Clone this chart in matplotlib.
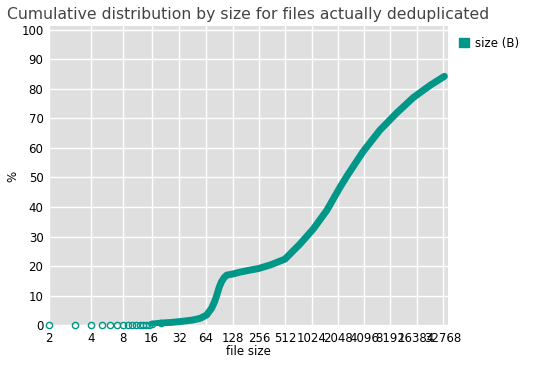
import matplotlib
matplotlib.use("Agg")
import matplotlib.pyplot as plt
import matplotlib.patches as mpatches
import numpy as np

# small sizes, drawn as separate hollow points
small_sizes = [2, 3, 4, 5, 6, 7, 8, 9, 10, 11, 12, 13, 14, 15]
small_pct = [0.02, 0.03, 0.05, 0.06, 0.08, 0.1, 0.11, 0.13, 0.15, 0.17, 0.19, 0.21, 0.24, 0.28]

# rest of the curve (dense points)
sizes = [16, 20, 26, 33, 45, 55, 65, 74, 80, 85, 90, 96, 103, 110, 130, 155, 202, 251,
         350, 507, 753, 1070, 1521, 2166, 2600, 3990, 6200, 9660, 14950, 23200, 34000]
pct = [0.4, 0.75, 1.0, 1.3, 1.8, 2.4, 3.5, 5.8, 8.0, 10.3, 12.8, 14.8, 16.2, 17.0, 17.4,
       18.0, 18.7, 19.2, 20.5, 22.4, 27.5, 32.6, 38.8, 46.7, 50.5, 58.8, 66.0, 71.8,
       77.0, 81.1, 84.2]

xticks = [2 ** i for i in range(1, 16)]
yticks = list(range(0, 101, 10))

color = "#009688"


def fwd(x):
    return np.log2(np.maximum(np.asarray(x, dtype=float) - 1, 1e-9))


def inv(y):
    return 2 ** np.asarray(y, dtype=float) + 1


fig = plt.figure(figsize=(5.35, 3.65), dpi=100)
ax = fig.add_axes([49 / 535, 1 - 326 / 365, 399 / 535, 300 / 365])
ax.set_facecolor("#dfdfdf")
ax.set_xscale("function", functions=(fwd, inv))

# the dense part reads as one thick band
ax.plot(sizes, pct, color=color, lw=5, solid_capstyle="round", solid_joinstyle="round", zorder=3)
ax.plot(small_sizes + sizes[:2], small_pct + pct[:2], ls="none", marker="o", ms=4.5,
        mfc="none", mec=color, mew=1, clip_on=False, zorder=4)

ax.set_xlim(2, 37400)
ax.set_ylim(-0.2, 101.2)
ax.set_xticks(xticks)
ax.set_xticklabels([str(t) for t in xticks])
ax.xaxis.set_minor_locator(matplotlib.ticker.NullLocator())
ax.set_yticks(yticks)

ax.grid(True, color="white", lw=1)
ax.set_axisbelow(True)
for s in ax.spines.values():
    s.set_visible(False)
ax.tick_params(axis="both", length=0, labelsize=8.5, colors="black")
ax.tick_params(axis="x", pad=4)
ax.tick_params(axis="y", pad=4)

ax.set_xlabel("file size", fontsize=8.5, labelpad=0)
ax.set_ylabel("%", fontsize=8.5, labelpad=1)
ax.set_title("Cumulative distribution by size for files actually deduplicated",
             fontsize=11.25, color="#444444", pad=5)

handle = mpatches.Patch(color=color, label="size (B)")
ax.legend(handles=[handle], loc="upper left", bbox_to_anchor=(1.0, 1.0), frameon=False,
          handlelength=0.9, handleheight=0.9, handletextpad=0.5, fontsize=8.5)

fig.savefig("out.png", dpi=100)
